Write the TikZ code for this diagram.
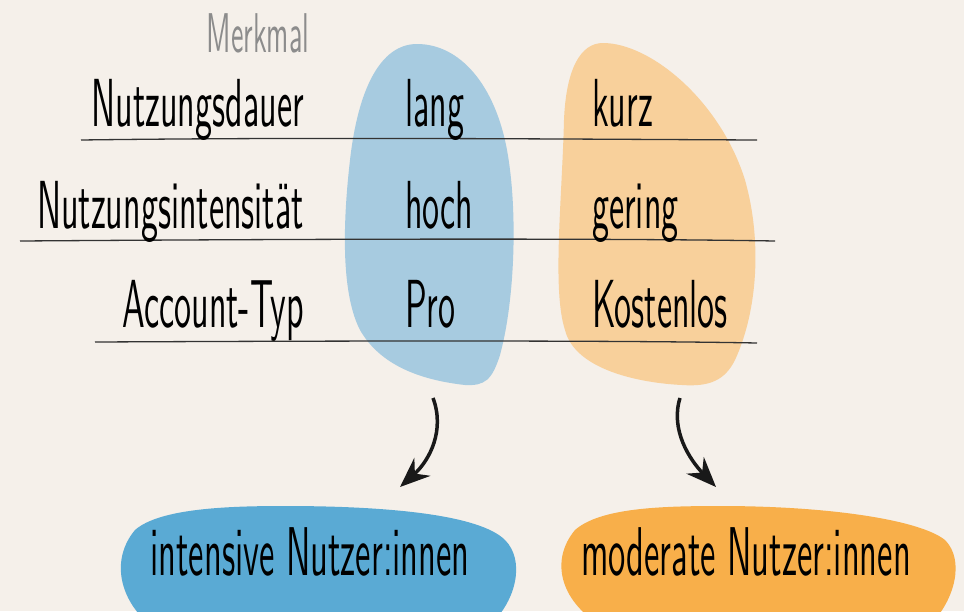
\documentclass[tikz,border=0pt]{standalone}
\usepackage{fontspec}
\usetikzlibrary{arrows.meta}
\newfontfamily\handfont{lmsans10-regular.otf}[FakeStretch=0.5]
\definecolor{paper}{HTML}{F5F0EA}
\definecolor{paleblue}{HTML}{A7CBE0}
\definecolor{paleorange}{HTML}{F8D09B}
\definecolor{userblue}{HTML}{5AAAD4}
\definecolor{userorange}{HTML}{F8AF4A}
\definecolor{rule}{HTML}{333333}
\tikzset{
  rowlabel/.style={anchor=base east, inner sep=0pt, font=\handfont\fontsize{68}{72}\selectfont},
  rowvalue/.style={anchor=base west, inner sep=0pt, font=\handfont\fontsize{68}{72}\selectfont},
  groupname/.style={anchor=base, inner sep=0pt, font=\handfont\fontsize{69}{72}\selectfont},
  sketcharrow/.style={line width=3.5pt, color=black!90, -{Stealth[length=30pt,width=24pt,inset=10pt]}}
}
\begin{document}
\begin{tikzpicture}[x=1pt,y=-1pt]
\fill[paper] (0,0) rectangle (964,611);
\useasboundingbox (0,0) rectangle (964,611);
\clip (0,0) rectangle (964,611);
% blobs
\fill[paleblue] (417,44) .. controls (460,44) and (495,85) .. (507,150)
  .. controls (518,210) and (515,300) .. (500,355)
  .. controls (492,380) and (485,386) .. (465,385)
  .. controls (420,380) and (380,365) .. (360,330)
  .. controls (342,295) and (342,230) .. (350,160)
  .. controls (358,90) and (380,44) .. (417,44) -- cycle;
\fill[paleorange] (603,43) .. controls (650,43) and (720,100) .. (745,180)
  .. controls (762,240) and (758,310) .. (735,360)
  .. controls (725,380) and (710,387) .. (682,385)
  .. controls (640,383) and (575,370) .. (565,330)
  .. controls (552,290) and (562,200) .. (564,120)
  .. controls (566,70) and (580,43) .. (603,43) -- cycle;
% rules
\draw[rule, line width=1.3pt] (81,140) .. controls (300,137) and (550,139) .. (757,140);
\draw[rule, line width=1.3pt] (20,241) .. controls (300,239) and (600,238) .. (775,241);
\draw[rule, line width=1.3pt] (95,342) .. controls (300,341) and (600,340) .. (757,343);
% table
\node[anchor=base, inner sep=0pt, text=black!45, font=\handfont\fontsize{56}{60}\selectfont] (merkmal) at (258,52) {Merkmal};
\node[rowlabel] (dauer) at (304,126) {Nutzungsdauer};
\node[rowlabel] (intens) at (304,228) {Nutzungsintensität};
\node[rowlabel] (typ) at (304,327) {Account-Typ};
\node[rowvalue] (lang) at (405,126) {lang};
\node[rowvalue] (hoch) at (405,228) {hoch};
\node[rowvalue] (pro) at (405,327) {Pro};
\node[rowvalue] (kurz) at (592,126) {kurz};
\node[rowvalue] (gering) at (592,228) {gering};
\node[rowvalue] (kostenlos) at (592,327) {Kostenlos};
% groups
\fill[userblue] (285,506) .. controls (390,506) and (480,515) .. (505,540)
  .. controls (525,560) and (517,600) .. (490,625) -- (150,625)
  .. controls (120,600) and (110,560) .. (135,530)
  .. controls (160,508) and (230,506) .. (285,506) -- cycle;
\fill[userorange] (720,506) .. controls (830,506) and (920,520) .. (945,540)
  .. controls (965,560) and (955,600) .. (930,625) -- (600,625)
  .. controls (560,600) and (550,560) .. (575,530)
  .. controls (600,508) and (660,506) .. (720,506) -- cycle;
\node[groupname] (intensiv) at (310,575) {intensive Nutzer:innen};
\node[groupname] (moderat) at (746,575) {moderate Nutzer:innen};
% arrows
\coordinate (bluetail) at (433,398);
\coordinate (bluetip) at (400,487);
\coordinate (orangetail) at (680,398);
\coordinate (orangetip) at (716,487);
\draw[sketcharrow] (bluetail) .. controls (445,430) and (430,460) .. (bluetip);
\draw[sketcharrow] (orangetail) .. controls (670,430) and (690,460) .. (orangetip);
\end{tikzpicture}
\end{document}
